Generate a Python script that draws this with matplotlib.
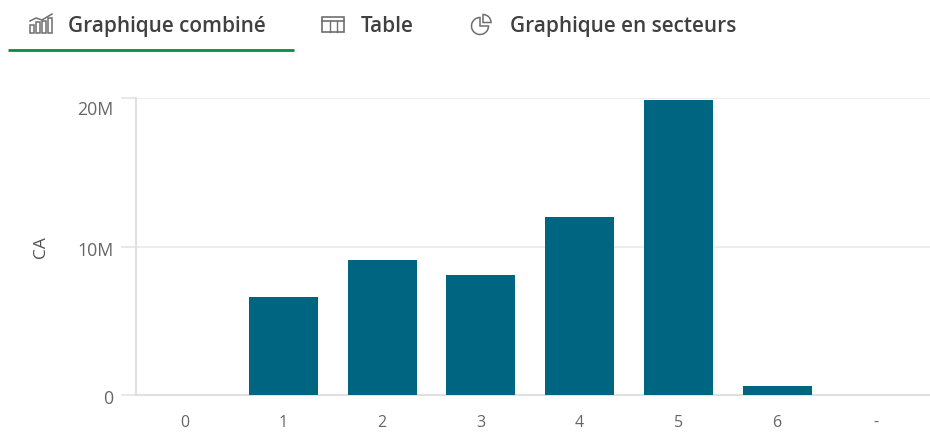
"""Combo chart tab view: CA by category, with the tab bar above it."""

import matplotlib

matplotlib.use("Agg")
import matplotlib.pyplot as plt
from matplotlib.patches import Rectangle, Wedge
from matplotlib.transforms import ScaledTranslation

categories = ["0", "1", "2", "3", "4", "5", "6", "-"]
ca_values = [0, 6.6e6, 9.1e6, 8.1e6, 12.0e6, 19.9e6, 0.6e6, 0]
y_ticks = [0, 10e6, 20e6]
y_labels = ["0", "10M", "20M"]
tab_labels = ["Graphique combiné", "Table", "Graphique en secteurs"]

W, H = 930, 439
BAR = "#006580"
GRID = "#e6e6e6"
TXT = "#666666"
TAB = "#404040"
ICON = "#6e6e6e"

plt.rcParams["font.family"] = ["Open Sans", "DejaVu Sans"]

fig = plt.figure(figsize=(W / 100, H / 100), dpi=100, facecolor="white")

# chart area, pixel bounds
left, right, top, bottom = 135.5, 930, 99.3, 395.8
ax = fig.add_axes([left / W, 1 - bottom / H, (right - left) / W, (bottom - top) / H])
ax.bar(range(len(categories)), ca_values, width=0.70, color=BAR, zorder=3)
ax.set_xlim(-0.5, -0.5 + (right - left) / 98.7)
ax.set_ylim(0, 20e6)
ax.set_xticks(range(len(categories)), categories)
ax.set_yticks(y_ticks, y_labels)
ax.tick_params(axis="x", length=0, pad=14, labelsize=11.5, labelcolor=TXT)
ax.tick_params(axis="y", length=11, width=1.3, color=GRID, pad=5, labelsize=12.8, labelcolor=TXT)
ax.grid(axis="y", color="#ececec", lw=1.3, zorder=0)
ax.set_axisbelow(True)
for name in ["top", "right"]:
    ax.spines[name].set_visible(False)
for name in ["left", "bottom"]:
    ax.spines[name].set_color("#e0e0e0")
    ax.spines[name].set_linewidth(1.5)

# reference nudges the y labels down, the top one so it stays inside the chart
for lab, dy in zip(ax.get_yticklabels(), [1.0, 1.0, 8.5]):
    lab.set_transform(lab.get_transform() + ScaledTranslation(0, -dy / 100, fig.dpi_scale_trans))

ax.text((41 - left) / (right - left), 0.5, "CA", transform=ax.transAxes, rotation=90,
        fontsize=12.5, color="#505050", ha="center", va="center")

# overlay in image pixels for the tab bar
ov = fig.add_axes([0, 0, 1, 1], facecolor="none")
ov.set_xlim(0, W)
ov.set_ylim(H, 0)
ov.axis("off")

for label, x in zip(tab_labels, [68, 361, 510]):
    ov.text(x, 26.5, label, fontsize=14.95, fontweight="semibold", color=TAB, va="center", ha="left")
ov.plot([8, 294], [50.5, 50.5], color="#0b8a44", lw=2, solid_capstyle="butt")

# combo icon
for x, h in zip([30, 36, 42, 48], [8, 11, 12, 15]):
    ov.add_patch(Rectangle((x, 34 - h), 4, h, fill=False, ec=ICON, lw=1.1))
ov.plot([30, 36, 42, 52], [22, 19, 21, 15], color=ICON, lw=1.1)

# table icon
ov.add_patch(Rectangle((322, 18), 22, 15, fill=False, ec=ICON, lw=1.2))
ov.plot([322, 344], [22, 22], color=ICON, lw=1.2)
ov.plot([329.5, 329.5], [22, 33], color=ICON, lw=1.0)
ov.plot([336.5, 336.5], [22, 33], color=ICON, lw=1.0)

# pie icon
ov.add_patch(Wedge((480, 27), 8.5, 0, 270, fill=False, ec=ICON, lw=1.1))
ov.add_patch(Wedge((483, 23.5), 8, 270, 360, fill=False, ec=ICON, lw=1.1))

fig.savefig("out.png", dpi=100, facecolor="white")
